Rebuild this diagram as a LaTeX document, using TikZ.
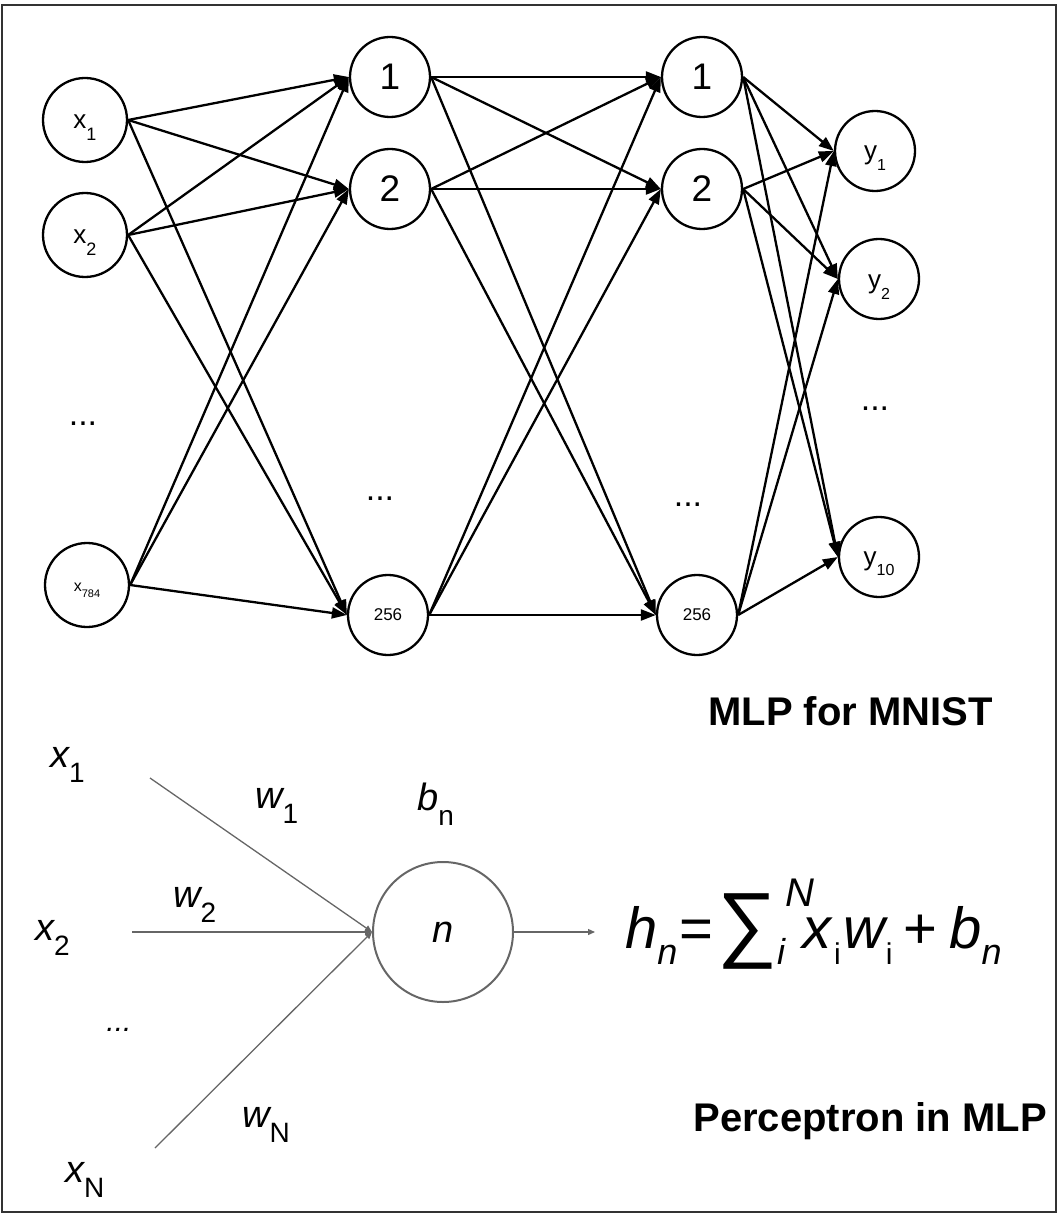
\documentclass[tikz,border=0pt]{standalone}
\usepackage{fontspec}
\setmainfont{Liberation Sans}
\usetikzlibrary{arrows.meta}
\definecolor{framegray}{HTML}{333333}
\definecolor{pgray}{HTML}{666666}
\newcommand{\pxsize}[1]{\fontsize{#1}{#1}\selectfont}
\newcommand{\lowsub}[3]{\raisebox{-#1pt}{\pxsize{#2}#3}}
\tikzset{
  neuron/.style={circle, draw, line width=2.3pt, inner sep=0pt, minimum size=80pt},
  link/.style={line width=2.3pt, -{Triangle[length=15pt,width=11pt]}},
  plink/.style={draw=pgray, line width=1.3pt, -{Triangle[length=7pt,width=6pt]}},
  plabel/.style={font=\pxsize{38}\itshape, anchor=base west, inner sep=0pt},
  title/.style={font=\pxsize{40}\bfseries, anchor=base east, inner sep=0pt},
}
\begin{document}
\begin{tikzpicture}[x=1pt,y=-1pt]
  \useasboundingbox (0,0) rectangle (1058,1214);
  \draw[framegray, line width=1.5pt] (2,5) rectangle (1056,1212);

  % MLP for MNIST
  \node[neuron, minimum size=84pt, font=\pxsize{26}, text height=18pt, text depth=0pt] (in1) at (85,120) {x\lowsub{12}{18}{1}};
  \node[neuron, minimum size=84pt, font=\pxsize{26}, text height=18pt, text depth=0pt] (in2) at (85,235) {x\lowsub{12}{18}{2}};
  \node[font=\pxsize{34}] (indots) at (83,424) {...};
  \node[neuron, minimum size=84pt, font=\pxsize{16}, text height=12pt, text depth=0pt] (in784) at (87,585) {x\lowsub{6}{11}{784}};

  \node[neuron, font=\pxsize{37}] (h1a) at (390,77) {1};
  \node[neuron, font=\pxsize{37}] (h1b) at (390,189) {2};
  \node[font=\pxsize{34}] (h1dots) at (380,499) {...};
  \node[neuron, font=\pxsize{17}] (h1c) at (388,615) {256};

  \node[neuron, font=\pxsize{37}] (h2a) at (702,77) {1};
  \node[neuron, font=\pxsize{37}] (h2b) at (702,189) {2};
  \node[font=\pxsize{34}] (h2dots) at (688,505) {...};
  \node[neuron, font=\pxsize{17}] (h2c) at (697,615) {256};

  \node[neuron, font=\pxsize{26}, text height=18pt, text depth=0pt] (y1) at (875,151) {y\lowsub{11}{16}{1}};
  \node[neuron, font=\pxsize{26}, text height=18pt, text depth=0pt] (y2) at (879,279) {y\lowsub{11}{16}{2}};
  \node[font=\pxsize{34}] (ydots) at (875,409) {...};
  \node[neuron, font=\pxsize{26}, text height=16pt, text depth=0pt] (y10) at (879,557) {y\lowsub{10}{16}{10}};

  \draw[link] (in1.east) -- (h1a.west);
  \draw[link] (in1.east) -- (h1b.west);
  \draw[link] (in1.east) -- (h1c.west);
  \draw[link] (in2.east) -- (h1a.west);
  \draw[link] (in2.east) -- (h1b.west);
  \draw[link] (in2.east) -- (h1c.west);
  \draw[link] (in784.east) -- (h1a.west);
  \draw[link] (in784.east) -- (h1b.west);
  \draw[link] (in784.east) -- (h1c.west);

  \draw[link] (h1a.east) -- (h2a.west);
  \draw[link] (h1a.east) -- (h2b.west);
  \draw[link] (h1a.east) -- (h2c.west);
  \draw[link] (h1b.east) -- (h2a.west);
  \draw[link] (h1b.east) -- (h2b.west);
  \draw[link] (h1b.east) -- (h2c.west);
  \draw[link] (h1c.east) -- (h2a.west);
  \draw[link] (h1c.east) -- (h2b.west);
  \draw[link] (h1c.east) -- (h2c.west);

  \draw[link] (h2a.east) -- (y1.west);
  \draw[link] (h2a.east) -- (y2.west);
  \draw[link] (h2a.east) -- (y10.west);
  \draw[link] (h2b.east) -- (y1.west);
  \draw[link] (h2b.east) -- (y2.west);
  \draw[link] (h2b.east) -- (y10.west);
  \draw[link] (h2c.east) -- (y1.west);
  \draw[link] (h2c.east) -- (y2.west);
  \draw[link] (h2c.east) -- (y10.west);

  \node[title] (mlptitle) at (993,725) {MLP for MNIST};

  % Perceptron
  \node[plabel] (px1) at (50,767) {x\lowsub{15}{28}{\upshape 1}};
  \node[plabel] (px2) at (35,940) {x\lowsub{15}{28}{\upshape 2}};
  \node[font=\pxsize{30}\itshape] (pdots) at (119,1030) {...};
  \node[plabel] (pxN) at (65,1182) {x\lowsub{15}{28}{\upshape N}};
  \node[plabel] (pw1) at (255,808) {w\lowsub{15}{28}{\upshape 1}};
  \node[plabel] (pw2) at (173,907) {w\lowsub{15}{28}{\upshape 2}};
  \node[plabel] (pwN) at (242,1127) {w\lowsub{15}{28}{\upshape N}};
  \node[plabel] (pbn) at (417,810) {b\lowsub{15}{28}{\upshape n}};

  \node[circle, draw=pgray, line width=2pt, inner sep=0pt, minimum size=140pt, font=\pxsize{38}\itshape] (n) at (443,932) {n};
  \coordinate (p1) at (150,778);
  \coordinate (p2) at (132,932);
  \coordinate (pN) at (155,1148);
  \coordinate (hout) at (595,932);
  \draw[plink] (p1) -- (n.west);
  \draw[plink] (p2) -- (n.west);
  \draw[plink] (pN) -- (n.west);
  \draw[plink] (n.east) -- (hout);

  \node[anchor=base west, inner sep=0pt, font=\pxsize{58}] (eq) at (625,948)
    {\itshape h\lowsub{16}{36}{n}\upshape\hspace{2pt}=\hspace{4pt}\raisebox{-3pt}{\pxsize{84}∑}\lowsub{16}{36}{\itshape i}\rlap{\raisebox{42pt}{\pxsize{40}\itshape N}}\hspace{17pt}\itshape x\hspace{3pt}\lowsub{16}{30}{\upshape i}\hspace{3pt}w\lowsub{16}{30}{\upshape i}\upshape\hspace{11pt}+\hspace{12pt}\itshape b\lowsub{16}{36}{n}};

  \node[title] (ptitle) at (1047,1131) {Perceptron in MLP};
\end{tikzpicture}
\end{document}
